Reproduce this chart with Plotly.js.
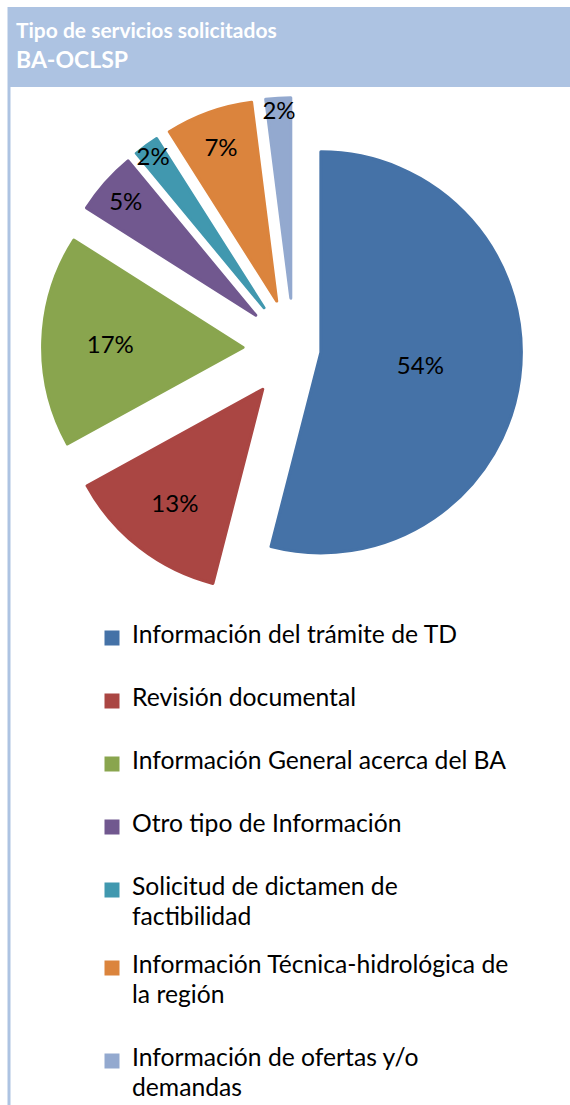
<!DOCTYPE html>
<html>
<head>
<meta charset="utf-8">
<script src="https://cdn.plot.ly/plotly-3.0.1.min.js"></script>
<style>
  html, body { margin: 0; padding: 0; background: #ffffff; }
  #chart { width: 570px; height: 1105px; }
</style>
</head>
<body>
<div id="chart"></div>
<script>
// ---- data ----
const categories = [
  "Información del trámite de TD",
  "Revisión documental",
  "Información General acerca del BA",
  "Otro tipo de Información",
  "Solicitud de dictamen de factibilidad",
  "Información Técnica-hidrológica de la región",
  "Información de ofertas y/o demandas"
];
const values = [54, 13, 17, 5, 2, 7, 2];
// legend wording as wrapped in the reference
const legendLines = [
  ["Información del trámite de TD"],
  ["Revisión documental"],
  ["Información General acerca del BA"],
  ["Otro tipo de Información"],
  ["Solicitud de dictamen de", "factibilidad"],
  ["Información Técnica-hidrológica de", "la región"],
  ["Información de ofertas y/o", "demandas"]
];
const titleText = "Tipo de servicios solicitados";
const subtitleText = "BA-OCLSP";

// ---- styling ----
const colors = ["#4572A7", "#AA4643", "#89A54E", "#71588F", "#4198AF", "#DB843D", "#93A9CF"];
const pulls = [0.135, 0.254, 0.254, 0.254, 0.254, 0.254, 0.254];
const FONT = "Lato, 'Open Sans', sans-serif";
const LEG_PX = 24.7;

// legend label: real text lines plus blank spacer lines to reproduce the row spacing
const padCounts = [3, 3, 3, 3, 2, 3, 1];
function legendLabel(lines, pads) {
  const s = (t) => `<span style="font-size:${LEG_PX}px">${t}</span>`;
  let parts = [];
  if (lines.length === 1) {
    parts.push(s(lines[0]));
    for (let i = 0; i < pads; i++) parts.push("&nbsp;");
  } else {
    parts.push(s(lines[0]));
    parts.push("&nbsp;");
    parts.push(s(lines[1]));
    for (let i = 0; i < pads; i++) parts.push("&nbsp;");
  }
  return parts.join("<br>");
}
const legendLabels = legendLines.map((l, i) => legendLabel(l, padCounts[i]));

const W = 570, H = 1105;
const trace = {
  type: "pie",
  labels: legendLabels,
  values: values,
  customdata: categories,
  sort: false,
  direction: "clockwise",
  rotation: 0,
  pull: pulls,
  marker: { colors: colors, line: { color: colors, width: 3 } },
  textinfo: "percent",
  texttemplate: "%{percent:.0%}",
  textposition: "inside",
  insidetextorientation: "horizontal",
  textfont: { family: FONT, size: 24, color: "#000000" },
  insidetextfont: { family: FONT, size: 24, color: "#000000" },
  hoverinfo: "none",
  domain: { x: [42.55 / W, 545.45 / W], y: [1 - 600.45 / H, 1 - 97.55 / H] }
};

const layout = {
  width: W, height: H,
  margin: { l: 0, r: 0, t: 0, b: 0, autoexpand: false },
  paper_bgcolor: "#ffffff",
  showlegend: true,
  uniformtext: { mode: "show", minsize: 24 },
  legend: {
    x: 92 / W, xanchor: "left", xref: "paper",
    y: 1 - 624 / H, yanchor: "top", yref: "paper",
    valign: "top",
    font: { family: FONT, size: 11.54, color: "#000000" },
    bgcolor: "rgba(0,0,0,0)",
    borderwidth: 0,
    traceorder: "normal"
  },
  shapes: [
    { type: "rect", xref: "paper", yref: "paper", layer: "below",
      x0: 7.5 / W, x1: 1, y0: 1 - 87 / H, y1: 1 - 7 / H,
      fillcolor: "#adc3e2", line: { width: 0 } },
    { type: "line", xref: "paper", yref: "paper", layer: "below",
      x0: 9 / W, x1: 9 / W, y0: 0, y1: 1 - 87 / H,
      line: { color: "#adc3e2", width: 3 } }
  ],
  annotations: [
    { text: titleText, xref: "paper", yref: "paper", x: 14 / W, xanchor: "left",
      y: 1 - 29 / H, yanchor: "middle", showarrow: false,
      font: { family: FONT, size: 21, color: "#ffffff", weight: "bold" } },
    { text: subtitleText, xref: "paper", yref: "paper", x: 14 / W, xanchor: "left",
      y: 1 - 58.5 / H, yanchor: "middle", showarrow: false,
      font: { family: FONT, size: 23, color: "#ffffff", weight: "bold" } }
  ]
};

Plotly.newPlot("chart", [trace], layout, { displayModeBar: false, staticPlot: true });
</script>
</body>
</html>
